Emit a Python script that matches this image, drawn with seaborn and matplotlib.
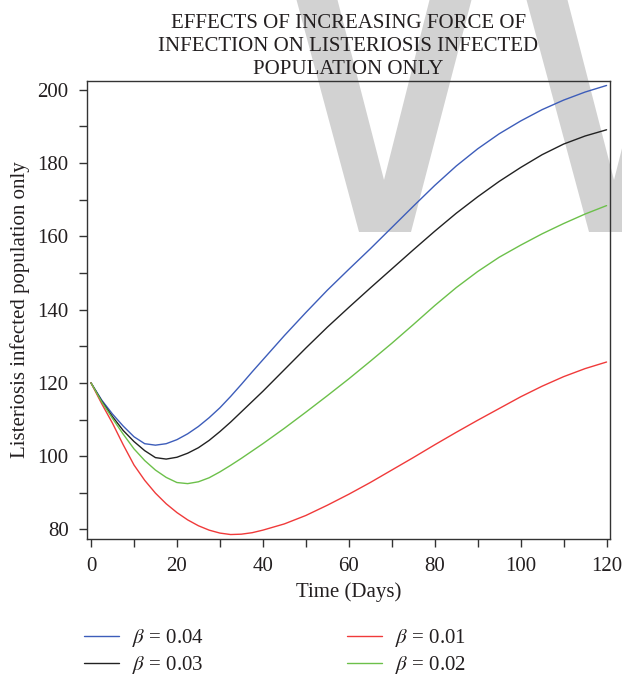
import numpy as np
import pandas as pd
import seaborn as sns
import matplotlib
matplotlib.use("Agg")
import matplotlib.pyplot as plt
from matplotlib.patches import Polygon

# ---------------- data ----------------
time_days = [0, 2.5, 5, 7.5, 10, 12.5, 15, 17.5, 20, 22.5, 25, 27.5, 30, 32.5, 35,
             37.5, 40, 45, 50, 55, 60, 65, 70, 75, 80, 85, 90, 95, 100, 105, 110, 115, 120]

beta_004 = [120, 115.3, 111.5, 108.2, 105.3, 103.4, 103.0, 103.4, 104.5, 106.1, 108.1,
            110.5, 113.2, 116.3, 119.6, 123.0, 126.3, 132.9, 139.2, 145.3, 151.0, 156.6,
            162.4, 168.2, 173.9, 179.2, 183.9, 188.0, 191.5, 194.6, 197.2, 199.4, 201.2]
beta_003 = [120, 115.0, 110.8, 107.0, 104.0, 101.5, 99.6, 99.2, 99.7, 100.8, 102.3,
            104.3, 106.7, 109.3, 112.1, 114.9, 117.7, 123.6, 129.5, 135.2, 140.6, 145.9,
            151.1, 156.3, 161.4, 166.3, 170.8, 175.0, 178.8, 182.3, 185.2, 187.4, 189.1]
beta_002 = [120, 114.8, 110.3, 106.0, 102.0, 98.8, 96.2, 94.2, 92.8, 92.5, 93.0,
            94.1, 95.7, 97.5, 99.4, 101.4, 103.4, 107.6, 112.0, 116.5, 121.1, 125.9,
            130.8, 135.9, 141.1, 146.0, 150.4, 154.3, 157.6, 160.7, 163.5, 166.1, 168.4]
beta_001 = [120, 114.3, 109.0, 103.1, 97.6, 93.4, 89.9, 87.0, 84.6, 82.6, 81.0,
            79.8, 79.0, 78.6, 78.7, 79.1, 79.8, 81.5, 83.8, 86.6, 89.6, 92.8,
            96.2, 99.6, 103.1, 106.5, 109.8, 113.0, 116.2, 119.1, 121.7, 123.9, 125.7]

series_labels = [r"$\beta$ = 0.04", r"$\beta$ = 0.03", r"$\beta$ = 0.01", r"$\beta$ = 0.02"]
series_values = [beta_004, beta_003, beta_001, beta_002]
series_colors = ["#3d5dba", "#222222", "#f03a3a", "#6cc04a"]

x_ticks = [0, 20, 40, 60, 80, 100, 120]
y_ticks = [80, 100, 120, 140, 160, 180, 200]

title = "EFFECTS OF INCREASING FORCE OF\nINFECTION ON LISTERIOSIS INFECTED\nPOPULATION ONLY"
x_label = "Time (Days)"
y_label = "Listeriosis infected population only"

# watermark outline (pixel coords from top-left), decoration only
wm_v = [(296, -2), (359, 232), (411, 232), (472, -2), (430, -2), (384, 180), (337, -2)]
wm_shift = 230

# ---------------- build frame ----------------
df = pd.concat([
    pd.DataFrame({"Time": time_days, "value": vals, "beta": lab})
    for lab, vals in zip(series_labels, series_values)
], ignore_index=True)

sns.set_style("ticks")
plt.rcParams["font.family"] = ["Liberation Serif", "DejaVu Serif"]
plt.rcParams["mathtext.fontset"] = "stix"
text_col = "#231f20"
fs = 15

W, H = 622, 675
fig = plt.figure(figsize=(W / 100, H / 100), dpi=100)
fig.patch.set_facecolor("white")

# watermark
for dx in (0, wm_shift):
    pts = [((x + dx) / W, 1 - y / H) for x, y in wm_v]
    fig.add_artist(Polygon(pts, closed=True, transform=fig.transFigure,
                           facecolor="#d2d2d2", edgecolor="none", zorder=-1))

ax = fig.add_axes([86.7 / W, 1 - 539.3 / H, (610 - 86.7) / W, (539.3 - 80.7) / H])
ax.set_facecolor("none")

sns.lineplot(data=df, x="Time", y="value", hue="beta", hue_order=series_labels,
             palette=dict(zip(series_labels, series_colors)), linewidth=1.0,
             ax=ax, legend=True, sort=False)

handles, labels = ax.get_legend_handles_labels()
ax.get_legend().remove()

ax.set_xlim(-1.0, 120.8)
ax.set_ylim(77.3, 202.5)
ax.set_xticks(x_ticks)
ax.set_yticks(y_ticks)
ax.set_xticks(np.arange(0, 121, 10), minor=True)
ax.set_yticks(np.arange(80, 201, 10), minor=True)
ax.tick_params(axis="both", which="both", direction="out", length=6, width=1.0,
               colors="#333333", labelcolor=text_col, labelsize=fs)
ax.tick_params(axis="x", which="major", pad=6.5)
ax.tick_params(axis="y", which="major", pad=7)
for s in ax.spines.values():
    s.set_visible(True)
    s.set_linewidth(1.0)
    s.set_color("#333333")

ax.set_xlabel(x_label, fontsize=fs, color=text_col, labelpad=5)
ax.set_ylabel(y_label, fontsize=fs, color=text_col, labelpad=5)
ax.set_title(title, fontsize=fs, color=text_col, pad=5, linespacing=1.28)

leg = fig.legend(handles, labels, loc="upper left", bbox_to_anchor=(84 / W, 1 - 627 / H),
                 ncol=2, frameon=False, fontsize=fs, handlelength=1.7,
                 handletextpad=0.62, columnspacing=6.85, labelspacing=0.25,
                 borderpad=0, borderaxespad=0)
for t in leg.get_texts():
    t.set_color(text_col)

fig.savefig("out.png", dpi=100, facecolor="white")
